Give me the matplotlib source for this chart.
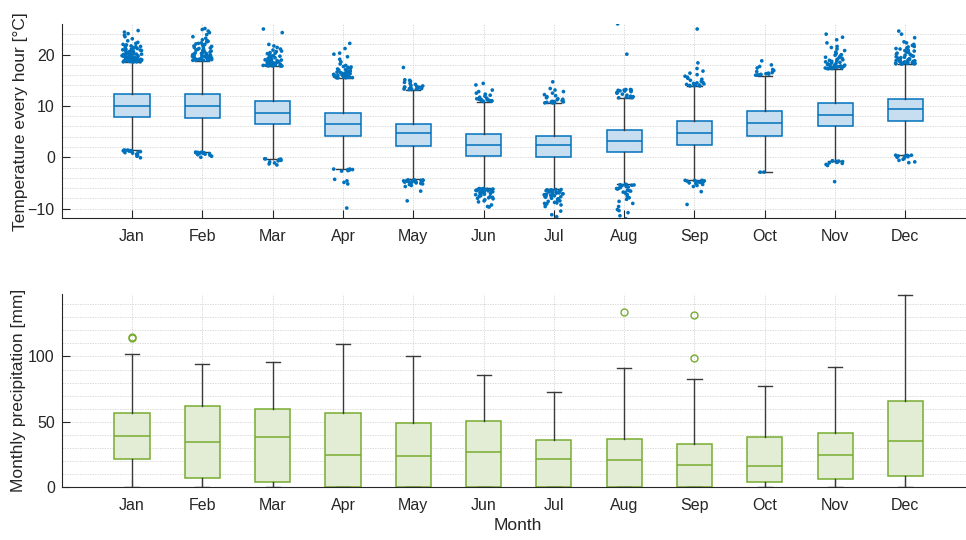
import numpy as np
import matplotlib
matplotlib.use("Agg")
import matplotlib.pyplot as plt
from matplotlib.ticker import MultipleLocator, FixedLocator

plt.rcParams['font.family'] = ['Liberation Sans', 'DejaVu Sans']

months = ["Jan", "Feb", "Mar", "Apr", "May", "Jun", "Jul", "Aug", "Sep", "Oct", "Nov", "Dec"]

# ---- Hourly temperature box statistics [°C]
t_q1 = [7.9, 7.7, 6.4, 4.2, 2.2, 0.25, 0.05, 1.0, 2.3, 4.15, 6.0, 7.0]
t_med = [10.0, 9.9, 8.7, 6.4, 4.7, 2.3, 2.3, 3.2, 4.8, 6.6, 8.2, 9.4]
t_q3 = [12.3, 12.3, 11.0, 8.7, 6.5, 4.5, 4.15, 5.3, 7.1, 9.0, 10.5, 11.4]
t_wlo = [1.4, 1.0, -0.3, -2.3, -4.3, -6.0, -6.2, -5.2, -4.4, -2.9, -0.65, 0.45]
t_whi = [18.5, 18.8, 17.7, 15.4, 13.1, 10.8, 10.5, 11.5, 13.8, 15.9, 17.2, 18.1]

# outliers (approximate)
t_out_jan = [18.6, 18.6, 18.6, 18.7, 18.7, 18.7, 18.8, 18.8, 18.8, 18.9, 18.9, 19.0, 19.0, 19.0, 19.1, 19.1,
             19.2, 19.2, 19.3, 19.3, 19.4, 19.4, 19.5, 19.6, 19.6, 19.7, 19.8, 19.9, 20.0, 20.1, 20.1, 20.2,
             20.3, 20.5, 20.6, 20.8, 20.9, 21.1, 21.2, 21.4, 21.6, 21.7, 21.9, 22.2, 22.4, 22.7, 23.1, 23.5,
             23.8, 24.1, 24.4, 24.7,
             18.65, 18.72, 18.9, 19.05, 19.18, 19.33, 19.47, 19.52, 19.68, 19.74, 19.85, 19.95, 20.05, 20.15,
             20.28, 20.35, 20.45, 20.62, 20.7, 20.85, 20.95, 21.05, 21.3, 21.45, 21.55, 21.8, 22.0, 18.62,
             18.68, 18.78,
             1.4, 1.4, 1.3, 1.3, 1.2, 1.2, 1.1, 1.0, 0.9, 0.8, 0.6, 0.4, 0.2, -0.1, 1.35, 1.25, 1.15]
t_out_feb = [18.9, 18.9, 18.9, 19.0, 19.0, 19.0, 19.1, 19.1, 19.2, 19.2, 19.3, 19.3, 19.4, 19.5, 19.5, 19.6,
             19.7, 19.8, 19.9, 20.0, 20.1, 20.2, 20.4, 20.5, 20.7, 20.8, 21.0, 21.2, 21.3, 21.5, 21.7, 21.9,
             22.1, 22.3, 22.5, 22.7, 22.9, 23.2, 23.5, 23.9, 24.3, 24.6, 24.9, 25.1,
             18.92, 18.97, 19.04, 19.12, 19.27, 19.36, 19.45, 19.58, 19.66, 19.77, 19.9, 20.03, 20.25, 20.33,
             20.6, 20.9, 21.1, 21.4, 21.6, 22.0, 22.2, 22.6,
             1.0, 1.0, 0.9, 0.9, 0.8, 0.8, 0.7, 0.6, 0.5, 0.4, 0.2, 0.0, 0.95, 0.85]
t_out_mar = [17.8, 17.8, 17.8, 17.9, 17.9, 18.0, 18.0, 18.1, 18.1, 18.2, 18.3, 18.3, 18.4, 18.5, 18.6, 18.7,
             18.8, 18.9, 19.0, 19.2, 19.3, 19.5, 19.7, 19.8, 20.0, 20.2, 20.4, 20.6, 20.9, 21.1, 21.4, 21.7,
             22.0, 24.3, 25.0,
             17.82, 17.86, 17.93, 18.05, 18.14, 18.22, 18.37, 18.45, 18.55, 18.66, 18.83, 18.95, 19.1, 19.4,
             19.6, 19.9, 20.3, 20.7,
             -0.3, -0.3, -0.4, -0.4, -0.5, -0.6, -0.7, -0.9, -1.1, -1.3, -1.5]
t_out_apr = [15.5, 15.5, 15.5, 15.6, 15.6, 15.7, 15.7, 15.8, 15.8, 15.9, 16.0, 16.0, 16.1, 16.2, 16.3, 16.4,
             16.5, 16.6, 16.7, 16.8, 17.0, 17.1, 17.3, 17.5, 17.7, 17.9, 18.2, 18.6, 19.1, 19.6, 20.1, 20.3,
             21.2, 22.2,
             15.52, 15.58, 15.65, 15.75, 15.85, 15.95, 16.05, 16.15, 16.35, 16.45, 16.62, 16.9, 17.2, 17.6,
             -2.3, -2.3, -2.4, -2.4, -2.5, -2.6, -2.7, -4.3, -4.6, -4.9, -5.2, -9.9]
t_out_may = [13.2, 13.2, 13.3, 13.3, 13.4, 13.4, 13.5, 13.6, 13.7, 13.8, 13.9, 14.0, 14.2, 14.4, 14.6, 14.8,
             15.0, 15.1, 17.5, 13.25, 13.35, 13.45, 13.55, 13.65,
             -4.4, -4.4, -4.5, -4.5, -4.6, -4.6, -4.7, -4.8, -4.9, -5.0, -5.1, -5.2, -5.3, -5.5, -5.7, -6.6, -8.5,
             -4.45, -4.55, -4.65, -4.75, -4.85, -5.05]
t_out_jun = [10.9, 10.9, 11.0, 11.0, 11.1, 11.2, 11.3, 11.4, 11.5, 11.7, 11.9, 12.1, 12.3, 12.5, 12.8, 13.1,
             14.1, 14.4, 10.95, 11.05, 11.15, 11.25,
             -6.1, -6.1, -6.2, -6.2, -6.3, -6.4, -6.5, -6.6, -6.7, -6.8, -6.9, -7.0, -7.1, -7.2, -7.4, -7.5,
             -7.7, -7.9, -8.1, -8.3, -8.5, -8.7, -9.3, -9.6, -9.7,
             -6.15, -6.25, -6.35, -6.45, -6.55, -6.72, -6.85, -7.05, -7.3, -7.6, -7.8, -8.0]
t_out_jul = [10.6, 10.6, 10.7, 10.7, 10.8, 10.9, 11.0, 11.1, 11.2, 11.4, 11.6, 11.8, 12.0, 12.2, 12.5, 12.8,
             13.1, 13.4, 14.7, 10.65, 10.75, 10.85, 11.3,
             -6.3, -6.3, -6.4, -6.4, -6.5, -6.6, -6.7, -6.8, -6.9, -7.0, -7.1, -7.2, -7.3, -7.4, -7.5, -7.6,
             -7.7, -7.8, -8.0, -8.1, -8.3, -8.4, -8.6, -8.8, -9.0, -9.1, -9.3, -9.6, -10.5, -11.2, -11.6,
             -6.35, -6.45, -6.55, -6.65, -6.75, -6.95, -7.15, -7.35, -7.55, -7.85, -8.2, -8.5, -8.9]
t_out_aug = [11.6, 11.6, 11.7, 11.8, 11.9, 12.1, 12.3, 12.5, 12.6, 12.8, 12.9, 13.0, 13.1, 13.2, 13.2, 20.1, 26.0,
             12.95, 13.05, 13.15, 11.65,
             -5.3, -5.3, -5.4, -5.5, -5.6, -5.8, -6.0, -6.2, -6.4, -6.6, -6.8, -7.0, -7.3, -7.6, -7.9, -8.2,
             -8.6, -9.0, -9.6, -10.2, -10.4, -10.8, -11.4, -12.0,
             -5.35, -5.45, -5.7, -5.9, -6.1, -6.5, -6.9]
t_out_sep = [13.9, 13.9, 14.0, 14.0, 14.1, 14.2, 14.3, 14.4, 14.6, 14.8, 15.0, 15.2, 15.4, 15.6, 15.8, 16.1,
             16.4, 16.8, 17.3, 18.4, 25.0, 13.95, 14.05, 14.25, 14.5,
             -4.5, -4.5, -4.6, -4.7, -4.8, -4.9, -5.0, -5.1, -5.3, -5.5, -5.7, -6.7, -9.2, -4.55, -4.65, -4.85]
t_out_oct = [16.0, 16.0, 16.1, 16.2, 16.3, 16.5, 16.7, 16.9, 17.1, 17.4, 17.7, 18.0, 18.8, 16.05, 16.15, 16.4,
             -2.9, -2.9]
t_out_nov = [17.3, 17.3, 17.3, 17.4, 17.4, 17.5, 17.5, 17.6, 17.7, 17.8, 17.9, 18.0, 18.1, 18.2, 18.4, 18.5,
             18.7, 18.9, 19.1, 19.3, 19.5, 19.7, 20.0, 20.2, 20.5, 20.8, 21.1, 21.4, 21.6, 22.3, 22.9, 23.4, 24.0,
             17.32, 17.37, 17.45, 17.55, 17.65, 17.75, 17.85, 17.95, 18.05, 18.3, 18.6, 18.8, 19.0, 19.4, 19.9,
             -0.7, -0.7, -0.8, -0.9, -1.0, -1.1, -1.2, -1.4, -1.6, -4.75, -0.75, -0.85, -0.95]
t_out_dec = [18.2, 18.2, 18.2, 18.3, 18.3, 18.4, 18.4, 18.5, 18.6, 18.7, 18.8, 18.9, 19.0, 19.1, 19.2, 19.4,
             19.5, 19.7, 19.9, 20.1, 20.3, 20.5, 20.7, 20.9, 21.1, 21.3, 21.5, 21.8, 22.0, 22.3, 22.5, 23.3,
             24.0, 24.6,
             18.22, 18.27, 18.35, 18.45, 18.55, 18.65, 18.75, 18.85, 18.95, 19.15, 19.3, 19.6, 19.8, 20.0, 20.4,
             20.8, 21.2, 21.6,
             0.4, 0.4, 0.3, 0.2, 0.1, 0.0, -0.2, -0.4, -0.6, -0.9, -1.05, 0.35, 0.25]
t_outliers = [t_out_jan, t_out_feb, t_out_mar, t_out_apr, t_out_may, t_out_jun,
              t_out_jul, t_out_aug, t_out_sep, t_out_oct, t_out_nov, t_out_dec]

# ---- Monthly precipitation box statistics [mm]
p_q1 = [21.4, 7.1, 4.3, 0, 0, 0, 0, 0, 0, 3.8, 6.6, 8.4]
p_med = [39.2, 34.8, 38.2, 24.9, 24.1, 26.7, 21.8, 20.6, 17.3, 16.5, 24.4, 35.1]
p_q3 = [56.5, 62.3, 60.0, 56.5, 48.8, 50.4, 35.9, 37.1, 32.8, 38.2, 41.2, 65.9]
p_wlo = [0, 0, 0, 0, 0, 0, 0, 0, 0, 0, 0, 0]
p_whi = [101.5, 94.6, 95.9, 109.4, 100.0, 85.7, 73.0, 90.8, 82.9, 77.6, 91.6, 147.3]
p_outliers = [[114, 115], [], [], [], [], [], [], [134], [99, 131.8], [], [], []]

blue = "#0072BD"
green = "#77AC30"
whisk = "#3a3a3a"
axc = "#262626"
gridc = "#d2d2d2"

fig = plt.figure(figsize=(9.66, 5.4), dpi=100)
W, H = 966, 540
ax1 = fig.add_axes([61.7 / W, 1 - 218.3 / H, 914 / W, 193.9 / H])
ax2 = fig.add_axes([61.7 / W, 1 - 487.3 / H, 914 / W, 193.0 / H])

pos = np.arange(1, len(months) + 1)


def style_axes(ax, ymajor, yminor, ylim):
    ax.set_xlim(0, 13)
    ax.set_ylim(*ylim)
    ax.set_xticks(pos)
    ax.set_xticklabels(months)
    ax.yaxis.set_major_locator(FixedLocator(ymajor))
    ax.yaxis.set_minor_locator(MultipleLocator(yminor))
    ax.set_axisbelow(True)
    ax.grid(True, which='both', axis='y', linestyle=(0, (1.5, 1.5)), color=gridc, linewidth=0.6)
    ax.grid(True, which='major', axis='x', linestyle=(0, (1.5, 1.5)), color=gridc, linewidth=0.6)
    for s in ['top', 'right']:
        ax.spines[s].set_visible(False)
    for s in ['left', 'bottom']:
        ax.spines[s].set_color(axc)
        ax.spines[s].set_linewidth(0.8)
    ax.tick_params(axis='both', which='major', direction='in', length=5.5, width=0.8,
                   color=axc, labelcolor=axc, labelsize=11.5)
    ax.tick_params(axis='x', pad=7.5)
    ax.tick_params(axis='y', pad=5)
    ax.tick_params(axis='both', which='minor', length=0)


# ---- top: temperature
t_stats = []
for i, m in enumerate(months):
    t_stats.append(dict(med=t_med[i], q1=t_q1[i], q3=t_q3[i], whislo=t_wlo[i], whishi=t_whi[i],
                        fliers=[], label=m))
ax1.bxp(t_stats, positions=pos, widths=0.5, capwidths=0.2, patch_artist=True, showfliers=False,
        manage_ticks=False,
        boxprops=dict(facecolor=(0.78, 0.87, 0.94), edgecolor=blue, linewidth=1.1),
        medianprops=dict(color=blue, linewidth=1.1),
        whiskerprops=dict(color=whisk, linewidth=1.0),
        capprops=dict(color=whisk, linewidth=1.0))

# horizontal jitter of the outlier markers (deterministic hash, position only)
for i, vals in enumerate(t_outliers):
    k = np.arange(len(vals)) + 131.0 * i + 1.0
    frac = (np.sin(k * 12.9898) * 43758.5453) % 1.0
    offs = (frac - 0.5) * 0.28
    ax1.scatter(pos[i] + offs, vals, s=7, color=blue, edgecolors='none', zorder=4)

style_axes(ax1, [-10, 0, 10, 20], 2, (-11.9, 25.9))
ax1.set_ylabel("Temperature every hour [°C]", fontsize=12.5, color=axc)
ax1.yaxis.set_label_coords(-0.037, 0.5)

# ---- bottom: precipitation
p_stats = []
for i, m in enumerate(months):
    p_stats.append(dict(med=p_med[i], q1=p_q1[i], q3=p_q3[i], whislo=p_wlo[i], whishi=p_whi[i],
                        fliers=p_outliers[i], label=m))
ax2.bxp(p_stats, positions=pos, widths=0.5, capwidths=0.2, patch_artist=True, showfliers=True,
        manage_ticks=False,
        boxprops=dict(facecolor=(0.89, 0.93, 0.84), edgecolor=green, linewidth=1.1),
        medianprops=dict(color=green, linewidth=1.1),
        whiskerprops=dict(color=whisk, linewidth=1.0),
        capprops=dict(color=whisk, linewidth=1.0),
        flierprops=dict(marker='o', markerfacecolor='none', markeredgecolor=green,
                        markersize=5, markeredgewidth=1.0))

style_axes(ax2, [0, 50, 100], 10, (0, 147.5))
ax2.set_ylabel("Monthly precipitation [mm]", fontsize=12.5, color=axc)
ax2.yaxis.set_label_coords(-0.039, 0.5)
ax2.set_xlabel("Month", fontsize=12.5, color=axc)
ax2.xaxis.set_label_coords(0.499, -0.16)

fig.savefig("out.png", dpi=100)
